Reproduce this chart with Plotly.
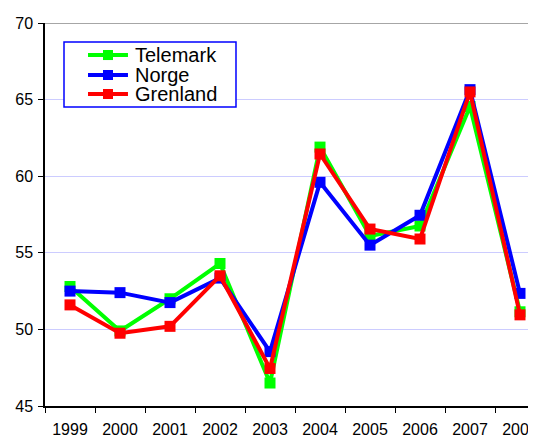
import plotly.graph_objects as go

years = ["1999", "2000", "2001", "2002", "2003", "2004", "2005", "2006", "2007", "2008"]

telemark = [52.8, 49.9, 52.0, 54.3, 46.5, 61.9, 56.1, 56.75, 64.55, 51.15]
norge = [52.5, 52.4, 51.75, 53.35, 48.55, 59.6, 55.5, 57.45, 65.65, 52.35]
grenland = [51.6, 49.75, 50.2, 53.5, 47.45, 61.45, 56.55, 55.9, 65.5, 50.95]

series = [("Telemark", telemark, "#00ff00"),
          ("Norge", norge, "#0000ff"),
          ("Grenland", grenland, "#ff0000")]

fig = go.Figure()
for name, vals, col in series:
    fig.add_trace(go.Scatter(x=years, y=vals, name=name, mode="lines+markers",
                             line=dict(color=col, width=4),
                             marker=dict(symbol="square", size=11, color=col),
                             showlegend=False))

# grey frame line across the top of the plot area
fig.add_shape(type="line", xref="paper", yref="y", x0=0, x1=1, y0=70, y1=70,
              line=dict(color="#888888", width=1.5))

# hand-built legend (Excel style, tight rows)
fig.add_shape(type="rect", xref="paper", yref="paper", x0=0.0387, x1=0.389,
              y0=0.7807, y1=0.9504, line=dict(color="#0000ff", width=1.5),
              fillcolor="white", layer="above")
row_y = [0.9164, 0.8642, 0.8146]
for (name, vals, col), ry in zip(series, row_y):
    fig.add_shape(type="line", xref="paper", yref="paper", x0=0.0876, x1=0.169,
                  y0=ry, y1=ry, line=dict(color=col, width=4), layer="above")
    fig.add_shape(type="rect", xref="paper", yref="paper",
                  x0=0.1283 - 0.0102, x1=0.1283 + 0.0102,
                  y0=ry - 0.0131, y1=ry + 0.0131,
                  line=dict(width=0), fillcolor=col, layer="above")
    fig.add_annotation(xref="paper", yref="paper", x=0.1792, y=ry, text=name,
                       xanchor="left", yanchor="middle", showarrow=False,
                       font=dict(size=20, color="black"))

# page body has an 8px margin, so the figure is 8px smaller than the window
fig.update_layout(
    template="none",
    width=528, height=428,
    margin=dict(l=37, r=0, t=15, b=30),
    paper_bgcolor="white", plot_bgcolor="white",
    font=dict(family="Liberation Sans, Arial", size=16, color="black"),
    showlegend=False,
    xaxis=dict(type="category", range=[-0.5, 9.32], showgrid=False,
               ticks="outside", tickson="boundaries", ticklen=5, tickcolor="black",
               showline=True, linecolor="black", linewidth=1.5,
               ticklabelstandoff=8, automargin=False, zeroline=False),
    yaxis=dict(range=[45, 70], dtick=5, showgrid=True, gridcolor="#ccccff", gridwidth=1,
               ticks="outside", ticklen=5, tickcolor="black",
               showline=True, linecolor="black", linewidth=1.5,
               ticklabelstandoff=2, automargin=False, zeroline=False),
)

fig.write_html("out.html")
